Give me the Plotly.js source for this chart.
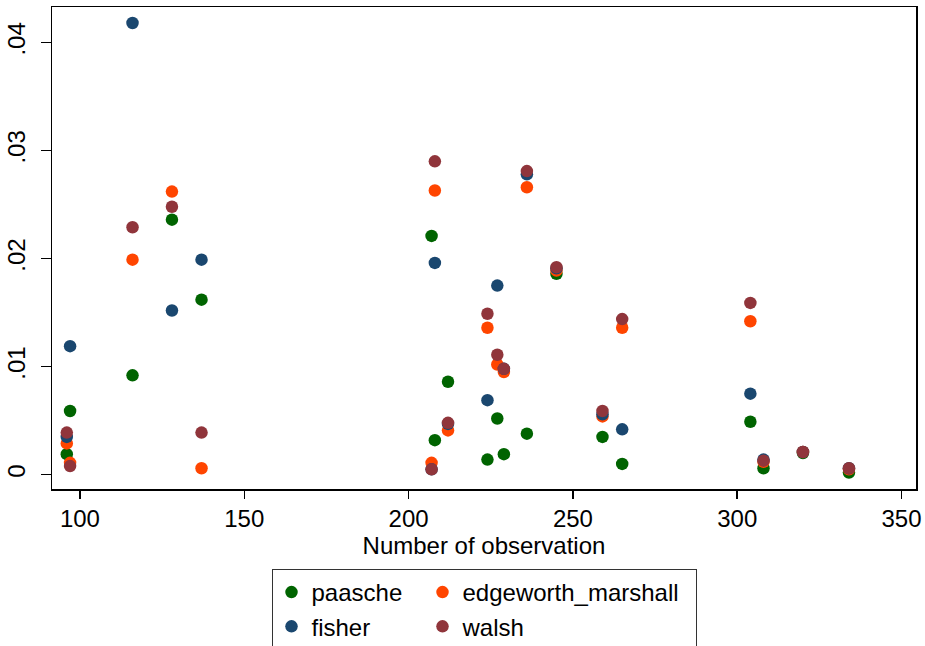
<!DOCTYPE html>
<html>
<head>
<meta charset="utf-8">
<script src="https://cdn.plot.ly/plotly-3.0.1.min.js"></script>
<style>html,body{margin:0;padding:0;background:#fff;}#chart{width:925px;height:646px;}</style>
</head>
<body>
<div id="chart"></div>
<script>
// Number of observation (x) shared by all series
const obs = [96, 97, 116, 128, 137, 207, 208, 212, 224, 227, 229, 236, 245, 259, 265, 304, 308, 320, 334];

const paasche = [0.0019, 0.0059, 0.0092, 0.0236, 0.0162, 0.0221, 0.0032, 0.0086, 0.0014, 0.0052, 0.0019, 0.0038, 0.0186, 0.0035, 0.0010, 0.0049, 0.0006, 0.0020, 0.0002];
const edgeworth_marshall = [0.0029, 0.0011, 0.0199, 0.0262, 0.0006, 0.0011, 0.0263, 0.0041, 0.0136, 0.0102, 0.0095, 0.0266, 0.0189, 0.0054, 0.0136, 0.0142, 0.0012, 0.0021, 0.0005];
const fisher = [0.0035, 0.0119, 0.0418, 0.0152, 0.0199, 0.0005, 0.0196, 0.0047, 0.0069, 0.0175, 0.0098, 0.0278, 0.0191, 0.0056, 0.0042, 0.0075, 0.0014, 0.0021, 0.0006];
const walsh = [0.0039, 0.0008, 0.0229, 0.0248, 0.0039, 0.0005, 0.0290, 0.0048, 0.0149, 0.0111, 0.0098, 0.0281, 0.0192, 0.0059, 0.0144, 0.0159, 0.0013, 0.0021, 0.0006];

const seriesNames = ['paasche', 'edgeworth_marshall', 'fisher', 'walsh'];
const seriesValues = [paasche, edgeworth_marshall, fisher, walsh];
const seriesColors = ['#006400', '#ff4500', '#1a476f', '#90353b'];
const seriesGroups = ['a', 'b', 'a', 'b'];
const legendWidths = [106, 228, 106, 228];

const xTickVals = [100, 150, 200, 250, 300, 350];
const yTickVals = [0, 0.01, 0.02, 0.03, 0.04];
const yTickText = ['0', '.01', '.02', '.03', '.04'];

const FONT = 'Liberation Sans, Arial, Helvetica, sans-serif';

const traces = seriesNames.map((name, i) => ({
  type: 'scatter',
  mode: 'markers',
  name: name,
  x: obs,
  y: seriesValues[i],
  legendgroup: seriesGroups[i],
  legendwidth: legendWidths[i],
  marker: {color: seriesColors[i], size: 12.5, line: {width: 0}},
  hoverinfo: 'x+y+name'
}));

const layout = {
  width: 925,
  height: 646,
  paper_bgcolor: '#ffffff',
  plot_bgcolor: '#ffffff',
  font: {family: FONT, size: 24, color: '#000'},
  margin: {l: 52, r: 9, t: 7, b: 157, pad: 0, autoexpand: false},
  showlegend: true,
  xaxis: {
    range: [91.5, 354.4],
    tickvals: xTickVals,
    ticktext: xTickVals.map(String),
    ticks: 'outside',
    ticklen: 8,
    tickwidth: 1.5,
    tickcolor: '#000',
    showline: true,
    linecolor: '#000',
    linewidth: 1.5,
    mirror: true,
    showgrid: false,
    zeroline: false,
    automargin: false,
    tickfont: {family: FONT, size: 24, color: '#000'},
    title: {text: 'Number of observation', font: {family: FONT, size: 24, color: '#000'}, standoff: 0}
  },
  yaxis: {
    range: [-0.00132, 0.04328],
    tickvals: yTickVals,
    ticktext: yTickText,
    tickangle: -90,
    ticks: 'outside',
    ticklen: 10,
    tickwidth: 1.5,
    tickcolor: '#000',
    ticklabelstandoff: 6,
    showline: true,
    linecolor: '#000',
    linewidth: 1.5,
    mirror: true,
    showgrid: false,
    zeroline: false,
    automargin: false,
    tickfont: {family: FONT, size: 24, color: '#000'}
  },
  legend: {
    orientation: 'h',
    traceorder: 'grouped',
    x: 0.5,
    xanchor: 'center',
    y: -0.166,
    yanchor: 'top',
    bordercolor: '#333',
    borderwidth: 1,
    bgcolor: '#ffffff',
    font: {family: FONT, size: 24, color: '#000'}
  }
};

Plotly.newPlot('chart', traces, layout, {displayModeBar: false, staticPlot: true});
</script>
</body>
</html>
